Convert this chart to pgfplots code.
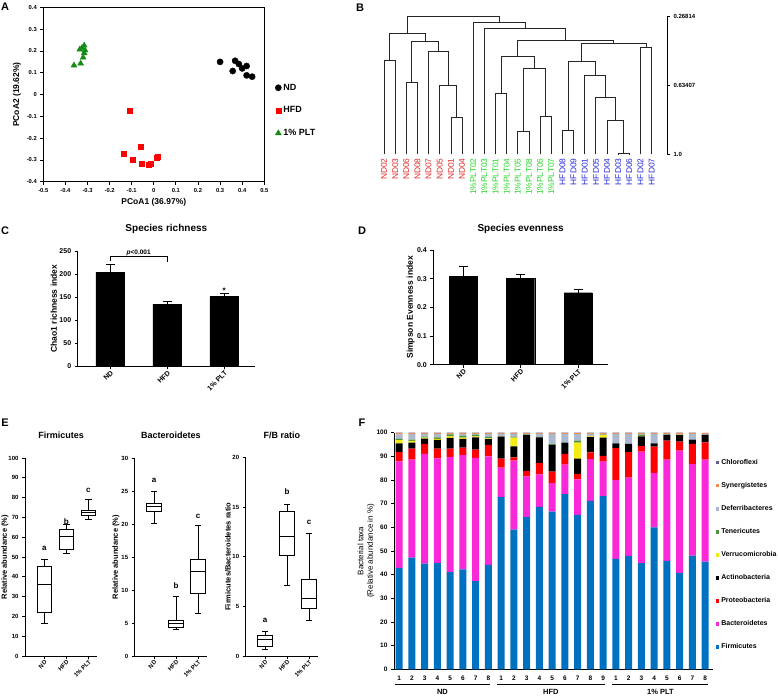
\documentclass[border=0pt]{standalone}
\usepackage{fontspec}
\setmainfont{Liberation Sans}
\setsansfont{Liberation Sans}
\usepackage{pgfplots}
\pgfplotsset{compat=1.18}
\usepackage{pgfplotstable}
\usepgfplotslibrary{statistics}

\definecolor{ndred}{RGB}{225,40,40}
\definecolor{pltgreen}{RGB}{40,215,40}
\definecolor{hfdblue}{RGB}{40,40,215}
\definecolor{pcgreen}{RGB}{20,140,20}
\definecolor{cFirm}{RGB}{0,112,192}
\definecolor{cBact}{RGB}{250,40,215}
\definecolor{cProt}{RGB}{255,0,0}
\definecolor{cActi}{RGB}{0,0,0}
\definecolor{cVerr}{RGB}{245,235,20}
\definecolor{cTene}{RGB}{80,145,60}
\definecolor{cDefe}{RGB}{170,185,205}
\definecolor{cSyne}{RGB}{240,140,80}
\definecolor{cChlo}{RGB}{100,90,140}

\pgfplotstableread{
x F B P A V T D S C
1 42.9 44.9 3.9 3.8 1.3 0.5 2.0 0.5 0.2
2 47.2 41.4 4.6 2.6 0.7 0.5 2.4 0.4 0.2
3 44.6 46.4 4.2 2.3 0.4 0.4 1.1 0.4 0.2
4 44.9 44.2 4.1 3.7 0.4 0.7 1.4 0.4 0.2
5 41.1 48.6 3.5 4.6 0.6 0.8 0.3 0.3 0.2
6 42.2 48.3 3.2 3.6 0.6 0.7 0.8 0.4 0.2
7 37.3 52.0 3.5 5.2 0.4 0.7 0.4 0.3 0.2
8 44.1 45.9 4.8 2.4 0.4 0.6 1.2 0.4 0.2
9 72.7 12.5 3.8 9.3 0.0 0.1 1.1 0.3 0.2
10 59.0 29.2 1.3 4.7 3.7 0.3 1.3 0.3 0.2
11 64.3 17.2 2.3 15.2 0.0 0.1 0.4 0.3 0.2
12 68.6 13.8 4.8 10.8 0.0 0.2 1.3 0.3 0.2
13 66.6 12.1 4.8 11.2 0.0 0.4 4.4 0.3 0.2
14 74.0 12.5 4.5 4.8 0.0 0.0 3.6 0.4 0.2
15 65.2 15.0 2.4 6.4 6.8 0.8 2.8 0.4 0.2
16 71.2 17.6 2.8 6.5 0.3 0.1 1.0 0.3 0.2
17 73.2 14.5 2.5 7.7 1.0 0.2 0.4 0.3 0.2
18 46.6 33.4 13.4 2.1 0.0 0.0 4.0 0.3 0.2
19 47.9 33.1 10.7 3.5 0.0 0.0 4.3 0.3 0.2
20 44.9 47.1 2.3 4.1 0.2 0.5 0.4 0.3 0.2
21 60.0 23.0 11.1 1.4 0.0 0.0 4.0 0.3 0.2
22 45.8 42.8 8.0 2.4 0.0 0.1 0.3 0.4 0.2
23 40.7 51.7 3.8 2.7 0.0 0.1 0.1 0.8 0.1
24 48.0 38.7 8.5 1.8 0.0 0.0 2.5 0.3 0.2
25 45.5 43.1 7.3 3.1 0.0 0.0 0.4 0.4 0.1
}\taxa

\pgfplotsset{
  base/.style={scale only axis, anchor=south west, clip=false,
    /pgf/number format/assume math mode=true,
    tick align=outside, major tick length=3pt,
    tick style={black, line width=0.8pt},
    axis line style={black, line width=0.9pt},
    ticklabel style={font=\bfseries\fontsize{7}{8}\selectfont},
    label style={font=\bfseries\fontsize{8.5}{10}\selectfont},
    title style={font=\bfseries\fontsize{10}{12}\selectfont, at={(0.5,1)}, anchor=center},
  },
  grp/.style={xtick={0,1,2}, xticklabels={ND,HFD,1\% PLT},
    xticklabel style={rotate=45, anchor=north east, inner sep=0.5pt}},
  bx/.style={black, line width=1pt, solid, mark=none},
  dl/.style={black!85, line width=0.75pt, solid, mark=none},
}

\begin{document}
\begin{tikzpicture}
\path[use as bounding box] (0pt,0pt) rectangle (778pt,696pt);

% panel letters
\node[font=\bfseries\fontsize{11}{12}\selectfont] at (5pt,689pt) {A};
\node[font=\bfseries\fontsize{11}{12}\selectfont] at (360pt,688pt) {B};
\node[font=\bfseries\fontsize{11}{12}\selectfont] at (5pt,465pt) {C};
\node[font=\bfseries\fontsize{11}{12}\selectfont] at (362pt,465pt) {D};
\node[font=\bfseries\fontsize{11}{12}\selectfont] at (5pt,273pt) {E};
\node[font=\bfseries\fontsize{11}{12}\selectfont] at (362pt,273pt) {F};

% ---------------- A ----------------
\begin{axis}[base, at={(43.3pt,514.3pt)}, width=221pt, height=174.3pt,
  xmin=-0.5, xmax=0.5, ymin=-0.4, ymax=0.4,
  xtick={-0.5,-0.4,...,0.5}, ytick={-0.4,-0.3,...,0.4},
  tick pos=left,
  ticklabel style={font=\bfseries\fontsize{5.8}{7}\selectfont, /pgf/number format/fixed, /pgf/number format/precision=1},
  xlabel={PCoA1 (36.97\%)}, ylabel={PCoA2 (19.62\%)},
  xlabel style={at={(axis description cs:0.5,-0.1165)}, anchor=center},
  ylabel style={at={(axis description cs:-0.119,0.5)}, anchor=center},
  legend style={at={(1.035,0.585)}, anchor=north west, draw=none, fill=none,
    row sep=11pt, font=\bfseries\fontsize{9}{10}\selectfont},
  legend cell align=left]
\addplot[only marks, mark=*, mark size=3.1pt, black] coordinates {
 (0.30,0.150) (0.368,0.155) (0.357,0.108) (0.385,0.140) (0.40,0.120)
 (0.42,0.131) (0.42,0.088) (0.445,0.082)};
\addplot[only marks, mark=square*, mark size=2.6pt, red] coordinates {
 (-0.108,-0.074) (-0.138,-0.273) (-0.094,-0.300) (-0.058,-0.241) (-0.054,-0.317)
 (-0.022,-0.322) (-0.013,-0.316) (0.013,-0.291) (0.016,-0.285)};
\addplot[only marks, mark=triangle*, mark size=3.4pt, pcgreen] coordinates {
 (-0.361,0.134) (-0.331,0.143) (-0.335,0.207) (-0.315,0.225) (-0.320,0.170)
 (-0.315,0.190) (-0.325,0.214) (-0.311,0.203)};
\legend{ND,HFD,1\% PLT}
\end{axis}

% ---------------- B ----------------
\begin{axis}[base, at={(378.4pt,541.7pt)}, width=288.6pt, height=138.3pt,
  xmin=-0.5, xmax=25.38, ymin=0.26814, ymax=1, y dir=reverse,
  separate axis lines, axis y line*=right, axis x line*=bottom,
  x axis line style={draw=none}, xtick style={draw=none},
  ytick={0.26814,0.63407,1}, yticklabels={0.26814,0.63407,1.0},
  yticklabel style={font=\bfseries\fontsize{6}{7}\selectfont},
  xtick={0,...,24},
  xticklabel style={rotate=90, anchor=east, inner sep=1pt, font=\fontsize{8.4}{9}\selectfont},
  xticklabels={\textcolor{ndred}{ND02},\textcolor{ndred}{ND03},\textcolor{ndred}{ND06},\textcolor{ndred}{ND08},\textcolor{ndred}{ND07},\textcolor{ndred}{ND05},\textcolor{ndred}{ND01},\textcolor{ndred}{ND04},
  \textcolor{pltgreen}{1\%PLT02},\textcolor{pltgreen}{1\%PLT03},\textcolor{pltgreen}{1\%PLT01},\textcolor{pltgreen}{1\%PLT04},\textcolor{pltgreen}{1\%PLT05},\textcolor{pltgreen}{1\%PLT08},\textcolor{pltgreen}{1\%PLT06},\textcolor{pltgreen}{1\%PLT07},
  \textcolor{hfdblue}{HFD08},\textcolor{hfdblue}{HFD09},\textcolor{hfdblue}{HFD01},\textcolor{hfdblue}{HFD05},\textcolor{hfdblue}{HFD04},\textcolor{hfdblue}{HFD03},\textcolor{hfdblue}{HFD06},\textcolor{hfdblue}{HFD02},\textcolor{hfdblue}{HFD07}}]
\addplot[dl] coordinates {(6,1) (6,0.8043) (7,0.8043) (7,1)};
\addplot[dl] coordinates {(5,1) (5,0.6332) (6.5,0.6332) (6.5,0.8043)};
\addplot[dl] coordinates {(4,1) (4,0.4568) (5.75,0.4568) (5.75,0.6332)};
\addplot[dl] coordinates {(2,1) (2,0.6173) (3,0.6173) (3,1)};
\addplot[dl] coordinates {(2.5,0.6173) (2.5,0.4039) (4.875,0.4039) (4.875,0.4568)};
\addplot[dl] coordinates {(0,1) (0,0.5009) (1,0.5009) (1,1)};
\addplot[dl] coordinates {(0.5,0.5009) (0.5,0.3581) (3.6875,0.3581) (3.6875,0.4039)};
\addplot[dl] coordinates {(12,1) (12,0.8783) (13,0.8783) (13,1)};
\addplot[dl] coordinates {(14,1) (14,0.8007) (15,0.8007) (15,1)};
\addplot[dl] coordinates {(12.5,0.8783) (12.5,0.5450) (14.5,0.5450) (14.5,0.8007)};
\addplot[dl] coordinates {(10,1) (10,0.6790) (11,0.6790) (11,1)};
\addplot[dl] coordinates {(10.5,0.6790) (10.5,0.4833) (13.5,0.4833) (13.5,0.5450)};
\addplot[dl] coordinates {(16,1) (16,0.8748) (17,0.8748) (17,1)};
\addplot[dl] coordinates {(21,1) (21,0.9965) (22,0.9965) (22,1)};
\addplot[dl] coordinates {(20,1) (20,0.8184) (21.5,0.8184) (21.5,0.9965)};
\addplot[dl] coordinates {(19,1) (19,0.6967) (20.75,0.6967) (20.75,0.8184)};
\addplot[dl] coordinates {(18,1) (18,0.5803) (19.875,0.5803) (19.875,0.6967)};
\addplot[dl] coordinates {(16.5,0.8748) (16.5,0.5080) (18.9375,0.5080) (18.9375,0.5803)};
\addplot[dl] coordinates {(23,1) (23,0.4357) (24,0.4357) (24,1)};
\addplot[dl] coordinates {(17.72,0.5080) (17.72,0.4145) (23.5,0.4145) (23.5,0.4357)};
\addplot[dl] coordinates {(12,0.4833) (12,0.3986) (20.61,0.3986) (20.61,0.4145)};
\addplot[dl] coordinates {(9,1) (9,0.3316) (16.305,0.3316) (16.305,0.3986)};
\addplot[dl] coordinates {(8,1) (8,0.3034) (12.65,0.3034) (12.65,0.3316)};
\addplot[dl] coordinates {(2.094,0.3581) (2.094,0.2717) (10.33,0.2717) (10.33,0.3034)};
\end{axis}

% ---------------- C ----------------
\begin{axis}[base, grp, at={(77.7pt,329.7pt)}, width=177.3pt, height=115.3pt,
  xmin=-0.57, xmax=2.54, ymin=0, ymax=250, ytick={0,50,...,250},
  axis lines*=left, 
  title={Species richness}, title style={yshift=16.3pt},
  ylabel={Chao1 richness index},
  ylabel style={at={(axis description cs:-0.135,0.5)}, anchor=center}]
\addplot[ybar, bar width=0.5, fill=black, draw=black,
  error bars/.cd, y dir=plus, y explicit,
  error bar style={line width=1pt, black},
  error mark options={rotate=90, mark size=4.6pt, line width=1pt, black}]
  coordinates {(0,204) +- (0,17) (1,134.5) +- (0,6.5) (2,151) +- (0,6)};
\addplot[black, line width=0.9pt] coordinates {(0,228) (0,239.2) (1,239.2) (1,225.5)};
\node[font=\fontsize{6.5}{7}\selectfont\bfseries] at (axis cs:0.5,245.5) {\itshape p\upshape{}<0.001};
\node[font=\fontsize{8}{8}\selectfont\bfseries] at (axis cs:2,163) {*};
\end{axis}

% ---------------- D ----------------
\begin{axis}[base, grp, at={(433.3pt,331.3pt)}, width=174.7pt, height=114.7pt,
  xmin=-0.52, xmax=2.52, ymin=0, ymax=0.4, ytick={0,0.1,...,0.4},
  yticklabel style={/pgf/number format/fixed, /pgf/number format/fixed zerofill, /pgf/number format/precision=1},
  axis lines*=left,
  title={Species evenness}, title style={yshift=15pt},
  ylabel={Simpson Evenness index},
  ylabel style={at={(axis description cs:-0.13,0.5)}, anchor=center}]
\addplot[ybar, bar width=0.49, fill=black, draw=black,
  error bars/.cd, y dir=plus, y explicit,
  error bar style={line width=1pt, black},
  error mark options={rotate=90, mark size=4.6pt, line width=1pt, black}]
  coordinates {(0,0.308) +- (0,0.035) (1,0.300) +- (0,0.015) (2,0.251) +- (0,0.012)};
\end{axis}

% ---------------- E1 ----------------
\begin{axis}[base, grp, at={(25pt,40pt)}, width=72.2pt, height=198pt,
  xmin=-0.88, xmax=2.4, ymin=0, ymax=100, ytick={0,10,...,100},
  ticklabel style={font=\bfseries\fontsize{6}{7}\selectfont},
  axis lines*=left, title={Firmicutes},
  title style={yshift=16.3pt, font=\bfseries\fontsize{9}{10}\selectfont},
  ylabel={Relative abundance (\%)},
  label style={font=\bfseries\fontsize{7.5}{9}\selectfont},
  ylabel style={at={(axis description cs:-0.277,0.5)}, anchor=center},
  boxplot/draw direction=y, boxplot/box extend=0.65, boxplot/whisker extend=0.3]
\addplot[bx, boxplot prepared={draw position=0, lower whisker=16.5, lower quartile=22, median=36, upper quartile=45.3, upper whisker=48.5}] coordinates {};
\addplot[bx, boxplot prepared={draw position=1, lower whisker=51.9, lower quartile=53.7, median=60.3, upper quartile=64, upper whisker=66.5}] coordinates {};
\addplot[bx, boxplot prepared={draw position=2, lower whisker=68.7, lower quartile=70.9, median=72.7, upper quartile=73.7, upper whisker=79}] coordinates {};
\node[font=\bfseries\fontsize{8}{9}\selectfont] at (axis cs:0,54.2) {a};
\node[font=\bfseries\fontsize{8}{9}\selectfont] at (axis cs:1,67.7) {b};
\node[font=\bfseries\fontsize{8}{9}\selectfont] at (axis cs:2,83.8) {c};
\end{axis}

% ---------------- E2 ----------------
\begin{axis}[base, grp, at={(134.7pt,40pt)}, width=72.2pt, height=198pt,
  xmin=-0.88, xmax=2.4, ymin=0, ymax=30, ytick={0,5,...,30},
  ticklabel style={font=\bfseries\fontsize{6}{7}\selectfont},
  axis lines*=left, title={Bacteroidetes},
  title style={yshift=16.3pt, font=\bfseries\fontsize{9}{10}\selectfont},
  ylabel={Relative abundance (\%)},
  label style={font=\bfseries\fontsize{7.5}{9}\selectfont},
  ylabel style={at={(axis description cs:-0.259,0.5)}, anchor=center},
  boxplot/draw direction=y, boxplot/box extend=0.65, boxplot/whisker extend=0.3]
\addplot[bx, boxplot prepared={draw position=0, lower whisker=20.1, lower quartile=21.9, median=22.6, upper quartile=23.1, upper whisker=25}] coordinates {};
\addplot[bx, boxplot prepared={draw position=1, lower whisker=4.05, lower quartile=4.3, median=4.85, upper quartile=5.45, upper whisker=9.0}] coordinates {};
\addplot[bx, boxplot prepared={draw position=2, lower whisker=6.4, lower quartile=9.4, median=12.8, upper quartile=14.6, upper whisker=19.7}] coordinates {};
\node[font=\bfseries\fontsize{8}{9}\selectfont] at (axis cs:0,26.6) {a};
\node[font=\bfseries\fontsize{8}{9}\selectfont] at (axis cs:1,10.6) {b};
\node[font=\bfseries\fontsize{8}{9}\selectfont] at (axis cs:2,21.2) {c};
\end{axis}

% ---------------- E3 ----------------
\begin{axis}[base, grp, at={(245.7pt,40pt)}, width=72.2pt, height=198.7pt,
  xmin=-0.88, xmax=2.4, ymin=0, ymax=20, ytick={0,5,...,20},
  ticklabel style={font=\bfseries\fontsize{6}{7}\selectfont},
  axis lines*=left, title={F/B ratio},
  title style={yshift=16.3pt, font=\bfseries\fontsize{9}{10}\selectfont},
  ylabel={Firmicutes/Bacteroidetes ratio},
  label style={font=\bfseries\fontsize{7.5}{9}\selectfont},
  ylabel style={at={(axis description cs:-0.245,0.5)}, anchor=center},
  boxplot/draw direction=y, boxplot/box extend=0.65, boxplot/whisker extend=0.3]
\addplot[bx, boxplot prepared={draw position=0, lower whisker=0.7, lower quartile=0.94, median=1.68, upper quartile=2.1, upper whisker=2.48}] coordinates {};
\addplot[bx, boxplot prepared={draw position=1, lower whisker=7.08, lower quartile=10.07, median=12.0, upper quartile=14.5, upper whisker=15.2}] coordinates {};
\addplot[bx, boxplot prepared={draw position=2, lower whisker=3.6, lower quartile=4.83, median=5.77, upper quartile=7.7, upper whisker=12.3}] coordinates {};
\node[font=\bfseries\fontsize{8}{9}\selectfont] at (axis cs:0,3.6) {a};
\node[font=\bfseries\fontsize{8}{9}\selectfont] at (axis cs:1,16.5) {b};
\node[font=\bfseries\fontsize{8}{9}\selectfont] at (axis cs:2,13.4) {c};
\end{axis}

% ---------------- F ----------------
\begin{axis}[base, at={(394pt,26.7pt)}, width=318.5pt, height=236.7pt,
  xmin=0.6, xmax=25.58, ymin=0, ymax=100, ytick={0,10,...,100},
  axis lines*=left, ybar stacked, bar width=0.55,
  ticklabel style={font=\bfseries\fontsize{6.5}{7}\selectfont},
  xtick={1,...,25}, xtick style={draw=none},
  xticklabels={1,2,3,4,5,6,7,8,1,2,3,4,5,6,7,8,9,1,2,3,4,5,6,7,8},
  ylabel={Bacterial taxa\\(Relative abundance in \%)},
  ylabel style={at={(axis description cs:-0.088,0.5)}, anchor=center, align=center,
    font=\fontsize{8}{9.5}\selectfont},
  legend style={at={(1.0,0.905)}, anchor=north west, draw=none, fill=none,
    row sep=12.5pt, font=\bfseries\fontsize{7}{8}\selectfont,
    /tikz/every even column/.append style={column sep=1pt}},
  legend cell align=left, reverse legend,
  legend image code/.code={\fill[#1] (0pt,-1.8pt) rectangle (3.6pt,1.8pt);},
  every axis plot/.append style={draw=none}]
\addplot[fill=cFirm] table[x=x,y=F] {\taxa};
\addplot[fill=cBact] table[x=x,y=B] {\taxa};
\addplot[fill=cProt] table[x=x,y=P] {\taxa};
\addplot[fill=cActi] table[x=x,y=A] {\taxa};
\addplot[fill=cVerr] table[x=x,y=V] {\taxa};
\addplot[fill=cTene] table[x=x,y=T] {\taxa};
\addplot[fill=cDefe] table[x=x,y=D] {\taxa};
\addplot[fill=cSyne] table[x=x,y=S] {\taxa};
\addplot[fill=cChlo] table[x=x,y=C] {\taxa};
\legend{Firmicutes,Bacteroidetes,Proteobacteria,Actinobacteria,Verrucomicrobia,Tenericutes,Deferribacteres,Synergistetes,Chloroflexi}
\draw[black, line width=0.8pt] (axis cs:0.68,-6.2) -- (axis cs:8.13,-6.2);
\draw[black, line width=0.8pt] (axis cs:8.68,-6.2) -- (axis cs:17.15,-6.2);
\draw[black, line width=0.8pt] (axis cs:17.7,-6.2) -- (axis cs:25.23,-6.2);
\node[font=\bfseries\fontsize{7.5}{8}\selectfont] at (axis cs:4.4,-9.6) {ND};
\node[font=\bfseries\fontsize{7.5}{8}\selectfont] at (axis cs:12.9,-9.6) {HFD};
\node[font=\bfseries\fontsize{7.5}{8}\selectfont] at (axis cs:21.5,-9.6) {1\% PLT};
\end{axis}
\end{tikzpicture}
\end{document}
